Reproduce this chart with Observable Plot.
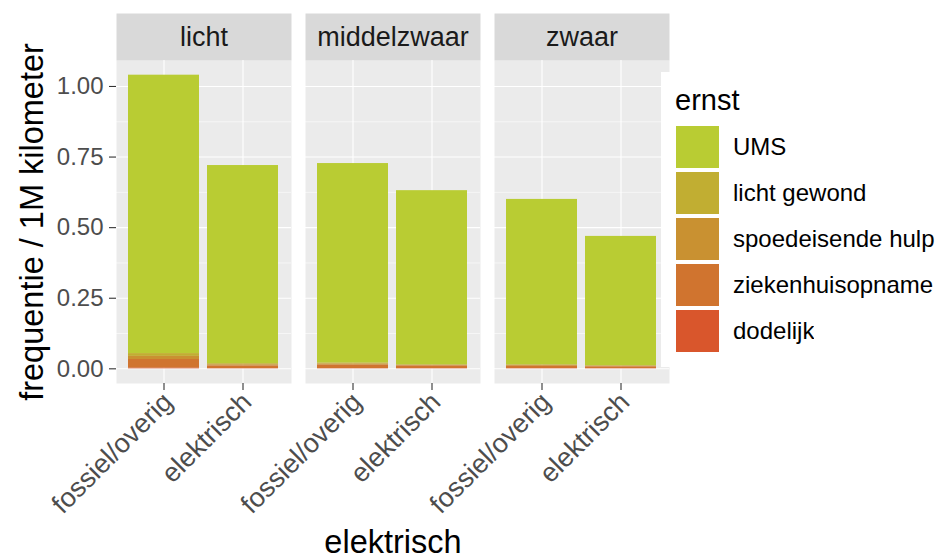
<!DOCTYPE html>
<html><head><meta charset="utf-8">
<script src="https://cdn.jsdelivr.net/npm/d3@7"></script>
<script src="https://cdn.jsdelivr.net/npm/@observablehq/plot@0.6"></script>
<style>
body{margin:0;background:#fff;font-family:"Liberation Sans",Arial,sans-serif;}
#wrap{position:relative;width:944px;height:559px;overflow:hidden;background:#fff}
#legend{position:absolute;left:661px;top:72px;width:283px;height:295px;background:#fff}
#legend .ltitle{position:absolute;left:14px;top:14px;font-size:29px;line-height:1;color:#000}
#legend .lg-swatches{position:absolute;left:15px;top:54px;margin:0}
.lg-swatch{padding-bottom:4px !important}
.lg-swatch > svg{margin-right:14px !important}
.lg-swatch-label{color:#000}
</style></head><body><div id="wrap"></div>
<script>
// categories
const sizes = ["licht", "middelzwaar", "zwaar"];
const types = ["fossiel/overig", "elektrisch"];
const severities = ["UMS", "licht gewond", "spoedeisende hulp", "ziekenhuisopname", "dodelijk"];
const severityColors = ["#B9CC33", "#C1AE32", "#C99131", "#D0742F", "#D9562C"];
const stackOrder = ["dodelijk", "ziekenhuisopname", "spoedeisende hulp", "licht gewond", "UMS"];
// values in order: licht fossiel, licht elek, middelzwaar fossiel, middelzwaar elek, zwaar fossiel, zwaar elek
const ums = [0.986, 0.702, 0.707, 0.617, 0.586, 0.458];
const lichtGewond = [0.010, 0.004, 0.003, 0.002, 0.002, 0.002];
const spoedeisend = [0.011, 0.004, 0.004, 0.002, 0.003, 0.002];
const ziekenhuis = [0.031, 0.009, 0.012, 0.009, 0.008, 0.006];
const dodelijk = [0.002, 0.001, 0.001, 0.001, 0.001, 0.001];
const yTicks = [0, 0.25, 0.5, 0.75, 1];
const yMinor = [0.125, 0.375, 0.625, 0.875];
const yDomain = [-0.052, 1.092];

const series = {"UMS": ums, "licht gewond": lichtGewond, "spoedeisende hulp": spoedeisend, "ziekenhuisopname": ziekenhuis, "dodelijk": dodelijk};
const rows = [];
sizes.forEach((s, i) => types.forEach((t, j) => {
  const k = i * 2 + j;
  severities.forEach(e => rows.push({size: s, type: t, ernst: e, value: series[e][k]}));
}));

const W = 944, H = 559, mT = 60, mB = 176, mL = 116, mR = 275;
const panelH = H - mT - mB;
const font = "'Liberation Sans', Arial, sans-serif";

const chart = Plot.plot({
  width: W, height: H, marginTop: mT, marginBottom: mB, marginLeft: mL, marginRight: mR,
  style: {fontFamily: font, fontSize: "24px", background: "white", overflow: "visible"},
  fx: {domain: sizes, paddingInner: 14 / 189, paddingOuter: 0, axis: null, label: null},
  x: {domain: types, paddingInner: 0.1, paddingOuter: 0.15, axis: null, label: null},
  y: {domain: yDomain, axis: null, label: null},
  color: {domain: severities, range: severityColors},
  marks: [
    Plot.frame({fill: "#EBEBEB"}),
    Plot.frame({fill: "#D9D9D9", insetTop: -47, insetBottom: panelH}),
    Plot.gridY(yMinor, {stroke: "white", strokeOpacity: 1, strokeWidth: 0.55}),
    Plot.gridY(yTicks, {stroke: "white", strokeOpacity: 1, strokeWidth: 1.1}),
    Plot.gridX({stroke: "white", strokeOpacity: 1, strokeWidth: 1.1}),
    Plot.barY(rows, {fx: "size", x: "type", y: "value", fill: "ernst", order: stackOrder}),
    Plot.axisY(yTicks, {tickFormat: d => d.toFixed(2), tickSize: 7, tickPadding: 6, stroke: "#333333", strokeWidth: 1.1, fill: "#4D4D4D", label: null, fontSize: 24}),
    Plot.axisY({ticks: [], tickSize: 0, label: "frequentie / 1M kilometer", labelAnchor: "center", labelArrow: "none", labelOffset: 97, fontSize: 32.5, fill: "#000"}),
    Plot.axisX({tickSize: 7, tickFormat: () => "", stroke: "#333333", strokeWidth: 1.1, label: null}),
    Plot.axisX({tickRotate: -45, tickSize: 0, tickPadding: 14, dx: 4, fill: "#4D4D4D", label: null, fontSize: 27}),
    Plot.axisFx({anchor: "bottom", ticks: [], tickSize: 0, label: "elektrisch", labelAnchor: "center", labelArrow: "none", labelOffset: 169, fontSize: 32.5, fill: "#000"}),
    Plot.text(sizes, {fx: d => d, text: d => d, frameAnchor: "top", lineAnchor: "middle", dy: -23.5, fontSize: 27, fill: "#1A1A1A"})
  ]
});

const wrap = document.getElementById("wrap");
wrap.appendChild(chart);

const legend = document.createElement("div");
legend.id = "legend";
const lt = document.createElement("div");
lt.className = "ltitle";
lt.textContent = "ernst";
legend.appendChild(lt);
const sw = chart.legend("color", {legend: "swatches", columns: 1, swatchWidth: 43, swatchHeight: 42, className: "lg",
  style: {fontFamily: font, fontSize: "24px", color: "#000"}});
legend.appendChild(sw);
wrap.appendChild(legend);
</script>
</body></html>
